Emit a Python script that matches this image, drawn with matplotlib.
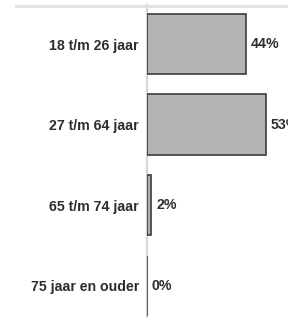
import matplotlib
matplotlib.use("Agg")
import matplotlib.pyplot as plt
from matplotlib.lines import Line2D

categories = ["18 t/m 26 jaar", "27 t/m 64 jaar", "65 t/m 74 jaar", "75 jaar en ouder"]
values = [44, 53, 2, 0]
value_labels = ["44%", "53%", "2%", "0%"]

W, H = 288, 318
fig = plt.figure(figsize=(W / 100, H / 100), dpi=100)
fig.patch.set_facecolor("white")

ax_left = 147 / W
ax_top = 1 - 5 / H
ax = fig.add_axes([ax_left, 0, 1 - ax_left, ax_top])

y = list(range(len(categories)))
ax.barh(y, values, height=0.75, color="#b3b3b3", edgecolor="#3c3c3c", linewidth=1.2)

ax.set_ylim(3.40, -0.484)
ax.set_xlim(0, 62.7)

FS = 10.2
for yi, v, lab in zip(y, values, value_labels):
    ax.annotate(lab, xy=(v, yi), xytext=(3.4, 0), textcoords="offset points",
                va="center", ha="left", fontsize=FS, color="#2e2e2e",
                family="Liberation Sans", fontweight="bold", annotation_clip=False)

ax.set_yticks(y)
ax.set_yticklabels(categories, fontsize=FS, color="#2e2e2e",
                   family="Liberation Sans", fontweight="bold")
ax.tick_params(axis="y", length=0, pad=5.8)
ax.set_xticks([])

for s in ["top", "right", "bottom"]:
    ax.spines[s].set_visible(False)
ax.spines["left"].set_color("#d8d8d8")
ax.spines["left"].set_linewidth(1.6)
ax.spines["left"].set_zorder(0)

fig.add_artist(Line2D([16 / W, 1.0], [1 - 5.5 / H, 1 - 5.5 / H],
                      transform=fig.transFigure, color="#e0e0e0", linewidth=2.0))

fig.savefig("out.png", dpi=100, facecolor="white")
